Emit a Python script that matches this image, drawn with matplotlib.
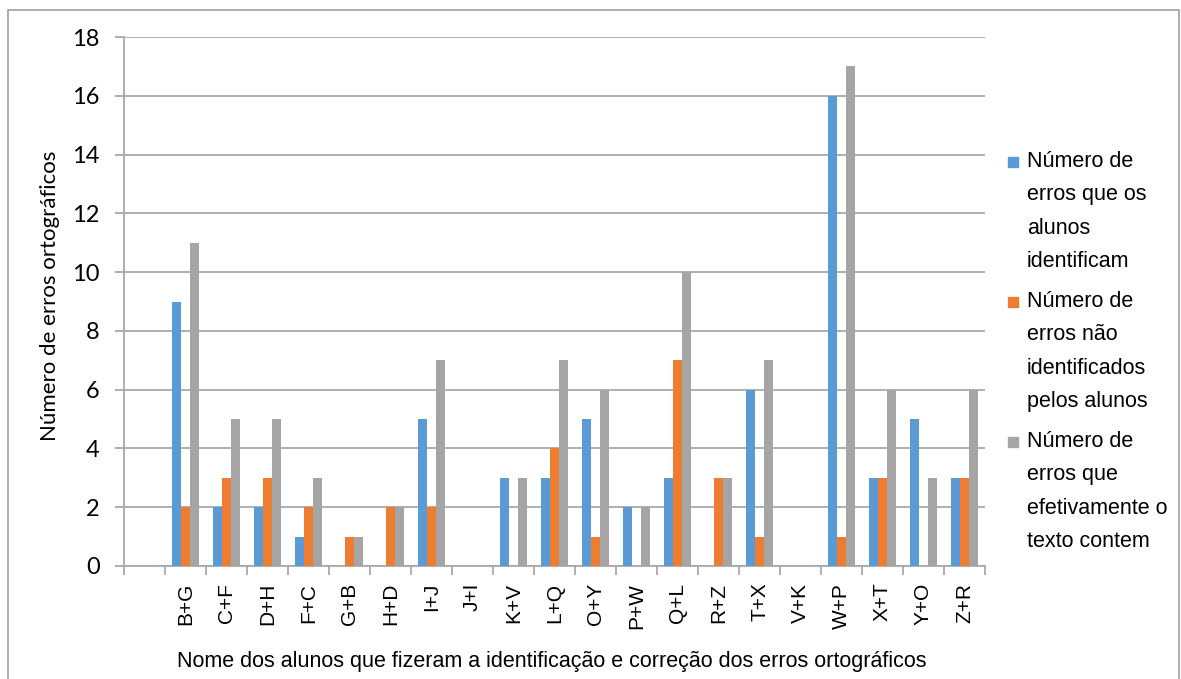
import matplotlib.pyplot as plt
from matplotlib.patches import Rectangle
import numpy as np

categories = ["", "B+G", "C+F", "D+H", "F+C", "G+B", "H+D", "I+J", "J+I", "K+V", "L+Q",
              "O+Y", "P+W", "Q+L", "R+Z", "T+X", "V+K", "W+P", "X+T", "Y+O", "Z+R"]
identificados = [0, 9, 2, 2, 1, 0, 0, 5, 0, 3, 3, 5, 2, 3, 0, 6, 0, 16, 3, 5, 3]
nao_identificados = [0, 2, 3, 3, 2, 1, 2, 2, 0, 0, 4, 1, 0, 7, 3, 1, 0, 1, 3, 0, 3]
contem = [0, 11, 5, 5, 3, 1, 2, 7, 0, 3, 7, 6, 2, 10, 3, 7, 0, 17, 6, 3, 6]
series_labels = [
    "Número de\nerros que os\nalunos\nidentificam",
    "Número de\nerros não\nidentificados\npelos alunos",
    "Número de\nerros que\nefetivamente o\ntexto contem",
]
colors = ["#5B9BD5", "#ED7D31", "#A5A5A5"]

grid_c = "#A9A9A9"
W, H = 1181, 679
fig = plt.figure(figsize=(W / 100, H / 100), dpi=100)
ax = fig.add_axes([124 / W, 1 - 566 / H, (985 - 124) / W, (566 - 37) / H])

x = np.arange(len(categories))
w = 0.22
for i, vals in enumerate([identificados, nao_identificados, contem]):
    ax.bar(x + (i - 1) * w, vals, width=w, color=colors[i], zorder=3)

ax.set_xlim(-0.5, len(categories) - 0.5)
ax.set_ylim(0, 18)
ax.set_yticks(range(0, 19, 2))
ax.set_yticklabels([str(v) for v in range(0, 19, 2)], fontsize=17, family="Lato")
ax.tick_params(axis="y", length=6.5, color=grid_c, width=1.3, pad=11, direction="out")
ax.yaxis.grid(True, color=grid_c, linewidth=1.3, zorder=0)

ax.set_xticks(np.arange(len(categories) + 1) - 0.5, minor=False)
ax.set_xticklabels([])
ax.set_xticks(x, minor=True)
ax.set_xticklabels(categories, minor=True, rotation=90, fontsize=15, family="Liberation Sans")
ax.tick_params(axis="x", which="major", length=6.5, color=grid_c, width=1.3)
ax.tick_params(axis="x", which="minor", length=0, pad=12)

for s in ["top", "right"]:
    ax.spines[s].set_visible(False)
for s in ["left", "bottom"]:
    ax.spines[s].set_color(grid_c)
    ax.spines[s].set_linewidth(1.3)

fig.text(50 / W, 1 - 296 / H, "Número de erros ortográficos", rotation=90,
         ha="center", va="center", fontsize=16, family="Lato")
fig.text(552 / W, 1 - 661 / H,
         "Nome dos alunos que fizeram a identificação e correção dos erros ortográficos",
         ha="center", va="center", fontsize=15.5, family="Liberation Sans")

# legend drawn by hand so the marker sits on the first line of each entry
for i, lab in enumerate(series_labels):
    yc = 162 + i * 140
    fig.add_artist(Rectangle((1008 / W, 1 - (yc + 5) / H), 10 / W, 10 / H,
                             transform=fig.transFigure, color=colors[i]))
    fig.text(1027 / W, 1 - (yc - 11) / H, lab, ha="left", va="top",
             fontsize=15.5, family="Liberation Sans", linespacing=1.78)

fig.add_artist(Rectangle((8 / W, -0.01), (1179 - 8) / W, 1 - 10 / H + 0.01,
                         transform=fig.transFigure, fill=False,
                         edgecolor="#A0A0A0", linewidth=1.2))

fig.savefig("out.png", dpi=100)
